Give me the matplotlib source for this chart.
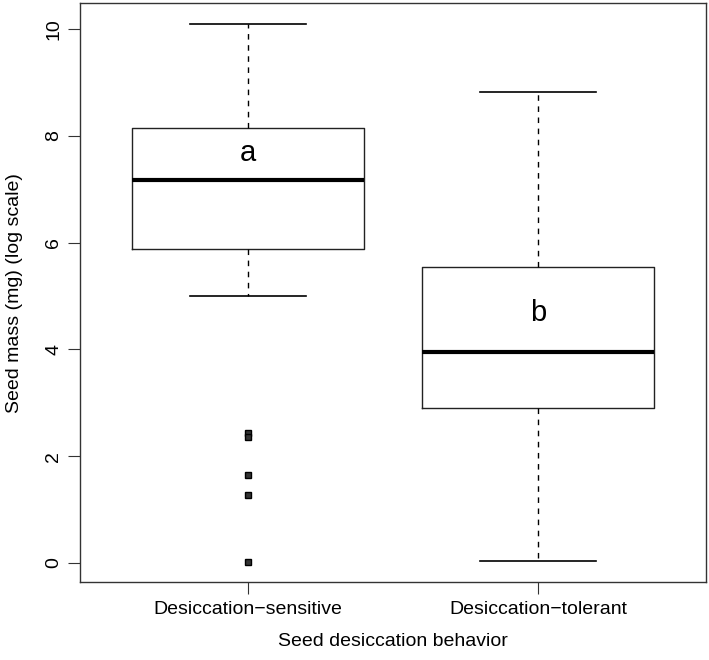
import matplotlib.pyplot as plt

plt.rcParams['font.family'] = ['Liberation Sans', 'DejaVu Sans']

grupos = ['Desiccation\u2212sensitive', 'Desiccation\u2212tolerant']
mediana = [7.17, 3.95]
q1 = [5.89, 2.90]
q3 = [8.15, 5.54]
bigote_inf = [5.00, 0.03]
bigote_sup = [10.10, 8.82]
atipicos = [[2.44, 2.36, 1.64, 1.27, 0.01], []]
letras = ['a', 'b']
pos_letras = [7.68, 4.68]

stats = []
for i in range(len(grupos)):
    stats.append({'med': mediana[i], 'q1': q1[i], 'q3': q3[i],
                  'whislo': bigote_inf[i], 'whishi': bigote_sup[i],
                  'fliers': atipicos[i], 'label': grupos[i]})

fig = plt.figure(figsize=(7.09, 6.6), dpi=100)
ax = fig.add_axes([0.1128, 0.1182, 0.883, 0.877])

ax.bxp(stats, positions=[1, 2], widths=0.8, patch_artist=False,
       boxprops=dict(color='#222222', linewidth=1.0),
       medianprops=dict(color='black', linewidth=3.0),
       whiskerprops=dict(color='black', linewidth=1.0, linestyle=(0, (4, 4))),
       capprops=dict(color='black', linewidth=1.2),
       capwidths=0.4,
       flierprops=dict(marker='s', markersize=5, markerfacecolor='#333333',
                       markeredgecolor='black', linestyle='none'))

for i, l in enumerate(letras):
    ax.text(i + 1, pos_letras[i], l, ha='center', va='center', fontsize=21)

ax.set_xlim(0.42, 2.58)
ax.set_ylim(-0.36, 10.49)
ax.set_yticks([0, 2, 4, 6, 8, 10])
ax.set_yticklabels(['0', '2', '4', '6', '8', '10'], rotation=90, va='center')
ax.tick_params(axis='both', labelsize=14, length=8.6, width=0.8, color='#333333')
ax.tick_params(axis='x', pad=5)
ax.tick_params(axis='y', pad=4)
for s in ax.spines.values():
    s.set_color('#333333')
    s.set_linewidth(1.0)

ax.set_xlabel('Seed desiccation behavior', fontsize=14, va='center')
ax.set_ylabel('Seed mass (mg) (log scale)', fontsize=14, va='center')
ax.xaxis.set_label_coords(0.5, -0.1036)
ax.yaxis.set_label_coords(-0.104, 0.5)

plt.savefig('out.png', dpi=100)
